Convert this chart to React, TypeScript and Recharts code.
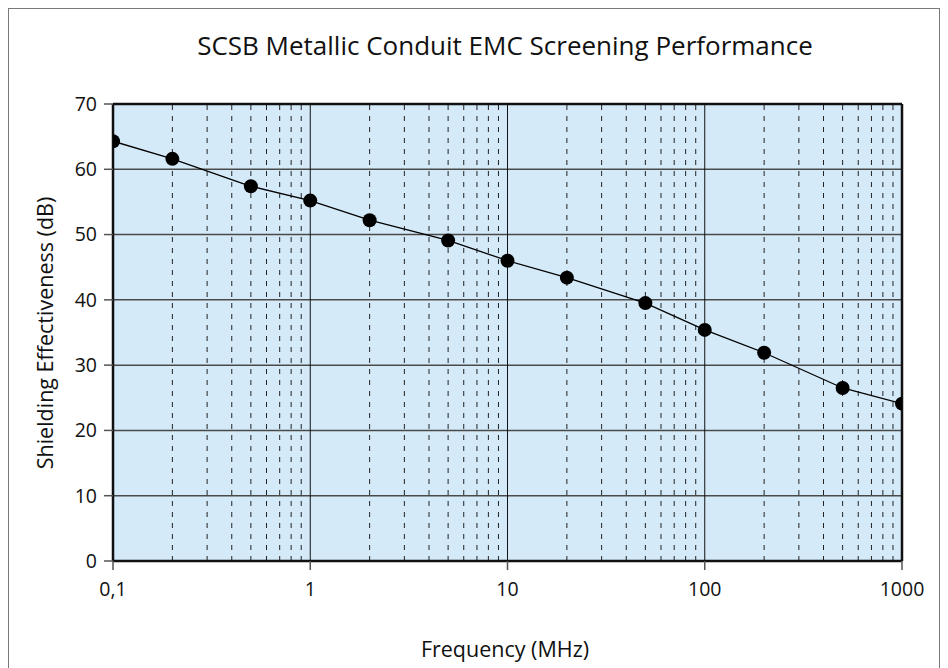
import React from "react";
import {
  LineChart,
  Line,
  XAxis,
  YAxis,
  CartesianGrid,
  ReferenceLine,
} from "recharts";

const frequencies = [0.1, 0.2, 0.5, 1, 2, 5, 10, 20, 50, 100, 200, 500, 1000];
const shielding = [64.3, 61.6, 57.4, 55.2, 52.2, 49.1, 46.0, 43.4, 39.5, 35.4, 31.9, 26.5, 24.1];
const xTicks = [0.1, 1, 10, 100, 1000];
const yTicks = [0, 10, 20, 30, 40, 50, 60, 70];
const minorSteps = [2, 3, 4, 5, 6, 7, 8, 9];

const data = frequencies.map((f, i) => ({ f, se: shielding[i] }));

// dashed minor lines inside each decade
const minorLines: number[] = [];
xTicks.slice(0, -1).forEach((d) => {
  minorSteps.forEach((m) => minorLines.push(Math.round(d * m * 1000) / 1000));
});

const FONT = "'Open Sans', sans-serif";

const App = () => {
  return (
    <div
      style={{
        position: "relative",
        width: 932,
        height: 700,
        border: "1px solid #7a7a7a",
        boxSizing: "border-box",
        fontFamily: FONT,
        color: "#111",
      }}
    >
      <div
        style={{
          position: "absolute",
          left: 0,
          top: 20,
          width: 992,
          textAlign: "center",
          fontSize: 26,
          lineHeight: "32px",
        }}
      >
        SCSB Metallic Conduit EMC Screening Performance
      </div>
      <div
        style={{
          position: "absolute",
          left: 0,
          top: 626,
          width: 992,
          textAlign: "center",
          fontSize: 21.5,
          lineHeight: "28px",
        }}
      >
        Frequency (MHz)
      </div>
      <div
        style={{
          position: "absolute",
          left: 36,
          top: 324,
          width: 0,
          height: 0,
        }}
      >
        <div
          style={{
            position: "absolute",
            transform: "translate(-50%, -50%) rotate(-90deg)",
            whiteSpace: "nowrap",
            fontSize: 21.5,
            lineHeight: "28px",
          }}
        >
          Shielding Effectiveness (dB)
        </div>
      </div>
      <div style={{ position: "absolute", left: 0, top: 0 }}>
        <LineChart
          width={920}
          height={620}
          data={data}
          margin={{ top: 95, right: 27, bottom: 28, left: 0 }}
        >
          <CartesianGrid
            fill="#d4eaf9"
            vertical={false}
            stroke="#4a4a4a"
            strokeWidth={1.5}
            strokeOpacity={1}
          />
          {minorLines.map((v) => (
            <ReferenceLine
              key={`m-${v}`}
              x={v}
              stroke="#222"
              strokeWidth={1}
              strokeDasharray="5 6"
            />
          ))}
          {xTicks.slice(1, -1).map((v) => (
            <ReferenceLine key={`d-${v}`} x={v} stroke="#111" strokeWidth={1} />
          ))}
          <ReferenceLine y={70} stroke="#111" strokeWidth={2.5} />
          <ReferenceLine x={1000} stroke="#111" strokeWidth={2.5} />
          <XAxis
            dataKey="f"
            type="number"
            scale="log"
            domain={[0.1, 1000]}
            ticks={xTicks}
            allowDataOverflow
            height={40}
            tickFormatter={(v: number) => String(v).replace(".", ",")}
            tick={{ fill: "#111", fontSize: 19.5, fontFamily: FONT }}
            tickLine={{ stroke: "#555", strokeWidth: 1.5 }}
            tickSize={9}
            tickMargin={12}
            axisLine={{ stroke: "#111", strokeWidth: 2.5 }}
          />
          <YAxis
            type="number"
            domain={[0, 70]}
            ticks={yTicks}
            width={104}
            tick={{ fill: "#111", fontSize: 19.5, fontFamily: FONT }}
            tickLine={{ stroke: "#555", strokeWidth: 1.5 }}
            tickSize={9}
            tickMargin={7}
            axisLine={{ stroke: "#111", strokeWidth: 2.5 }}
          />
          <Line
            type="linear"
            dataKey="se"
            stroke="#000"
            strokeWidth={1.3}
            dot={{ r: 7, fill: "#000", stroke: "none" }}
            activeDot={false}
            isAnimationActive={false}
          />
        </LineChart>
      </div>
    </div>
  );
};

export default App;
